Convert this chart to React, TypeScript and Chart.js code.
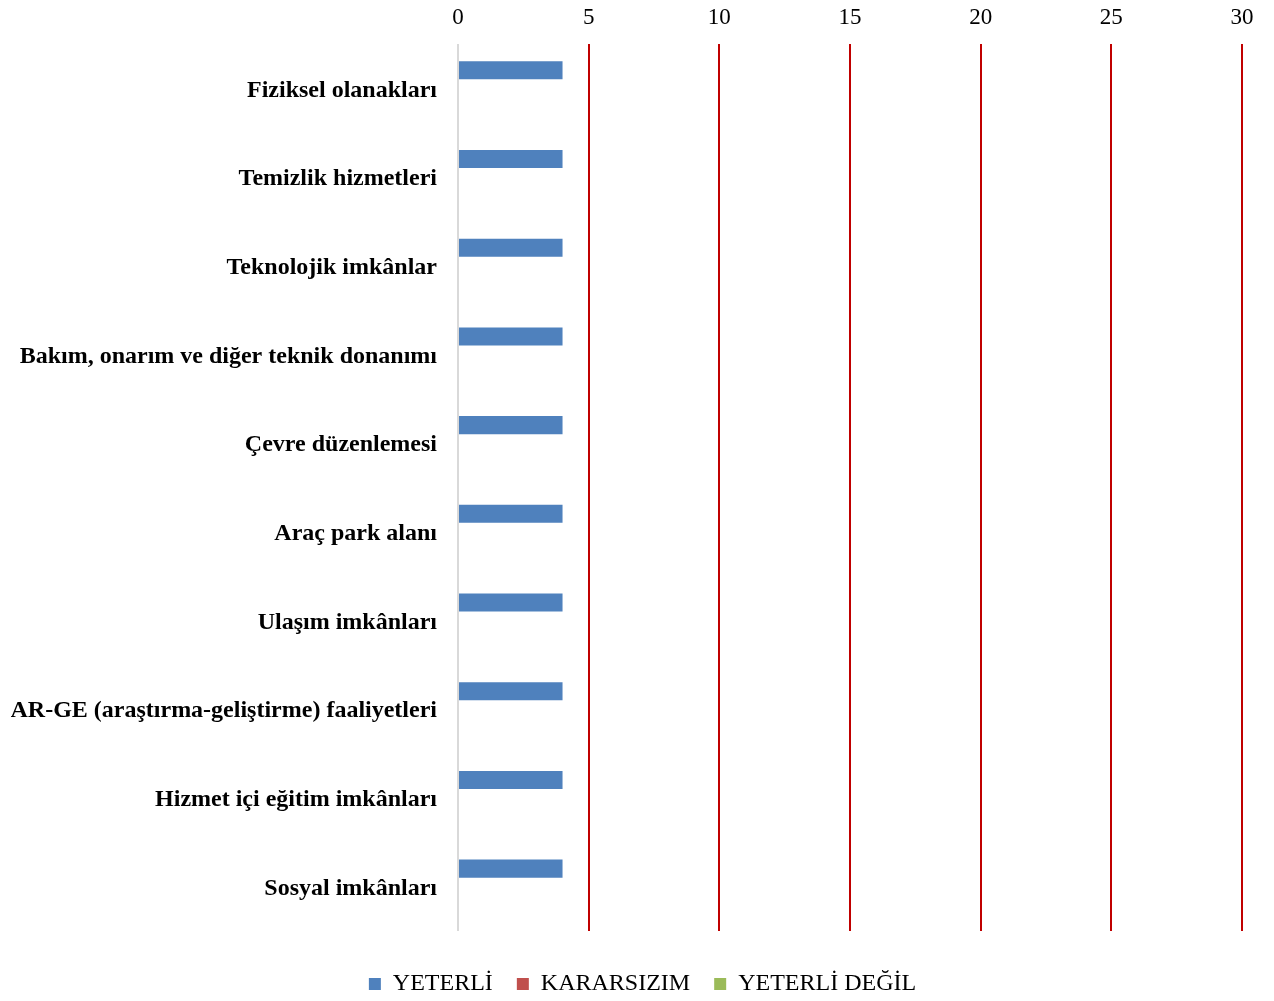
import React, { useEffect, useRef } from "react";
import { Chart, registerables } from "chart.js";

Chart.register(...registerables);

const categories = [
  "Fiziksel olanakları",
  "Temizlik hizmetleri",
  "Teknolojik imkânlar",
  "Bakım, onarım ve diğer teknik donanımı",
  "Çevre düzenlemesi",
  "Araç park alanı",
  "Ulaşım imkânları",
  "AR-GE (araştırma-geliştirme) faaliyetleri",
  "Hizmet içi eğitim imkânları",
  "Sosyal imkânları",
];

const seriesNames = ["YETERLİ", "KARARSIZIM", "YETERLİ DEĞİL"];
const yeterli = [4, 4, 4, 4, 4, 4, 4, 4, 4, 4];
const kararsizim = [0, 0, 0, 0, 0, 0, 0, 0, 0, 0];
const yeterliDegil = [0, 0, 0, 0, 0, 0, 0, 0, 0, 0];
const seriesColors = ["#4f81bd", "#c0504d", "#9bbb59"];

const xMin = 0;
const xMax = 30;
const xStep = 5;

const serif = "'Liberation Serif', 'Times New Roman', serif";

export default function App() {
  const canvasRef = useRef<HTMLCanvasElement | null>(null);

  useEffect(() => {
    if (!canvasRef.current) return;
    const values = [yeterli, kararsizim, yeterliDegil];
    const chart = new Chart(canvasRef.current, {
      type: "bar",
      data: {
        labels: categories,
        datasets: seriesNames.map((name, i) => ({
          label: name,
          data: values[i],
          xAxisID: "x",
          yAxisID: "y",
          backgroundColor: seriesColors[i],
          borderWidth: 0,
          categoryPercentage: 0.61,
          barPercentage: 1,
        })),
      },
      options: {
        indexAxis: "y",
        animation: false,
        responsive: false,
        maintainAspectRatio: false,
        layout: { padding: { left: 11, right: 0, top: 2, bottom: 2 } },
        plugins: {
          tooltip: { enabled: false },
          legend: {
            position: "bottom",
            maxHeight: 51,
            labels: {
              boxWidth: 12,
              boxHeight: 12,
              padding: 24,
              color: "#000",
              font: { family: serif, size: 24 },
            },
          },
        },
        scales: {
          x: {
            position: "top",
            min: xMin,
            max: xMax,
            ticks: {
              stepSize: xStep,
              color: "#000",
              padding: 12,
              font: { family: serif, size: 23 },
            },
            grid: {
              drawTicks: false,
              lineWidth: 2,
              color: (ctx: any) => (ctx.tick && ctx.tick.value === 0 ? "#d9d9d9" : "#c00000"),
            },
            border: { display: false },
            afterFit: (scale: any) => {
              scale.height = 42;
            },
          },
          y: {
            type: "category",
            position: "left",
            ticks: {
              color: "#000",
              padding: 21,
              labelOffset: 2,
              font: { family: serif, size: 24, weight: "bold" },
            },
            grid: { display: false, drawTicks: false },
            border: { display: false },
            afterFit: (scale: any) => {
              scale.width = 447;
              scale.paddingTop = 0;
              scale.paddingBottom = 0;
            },
          },
          xSpacer: {
            type: "linear",
            axis: "x",
            position: "bottom",
            display: true,
            ticks: { display: false },
            grid: { display: false, drawTicks: false },
            border: { display: false },
            afterFit: (scale: any) => {
              scale.height = 17;
            },
          },
          ySpacer: {
            type: "linear",
            axis: "y",
            position: "right",
            display: true,
            ticks: { display: false },
            grid: { display: false, drawTicks: false },
            border: { display: false },
            afterFit: (scale: any) => {
              scale.width = 32;
            },
          },
        },
      },
    } as any);
    return () => chart.destroy();
  }, []);

  return (
    <div style={{ position: "fixed", left: 0, top: 0, width: 1274, height: 1001, background: "#fff" }}>
      <canvas ref={canvasRef} width={1274} height={1001} style={{ width: 1274, height: 1001 }} />
    </div>
  );
}
